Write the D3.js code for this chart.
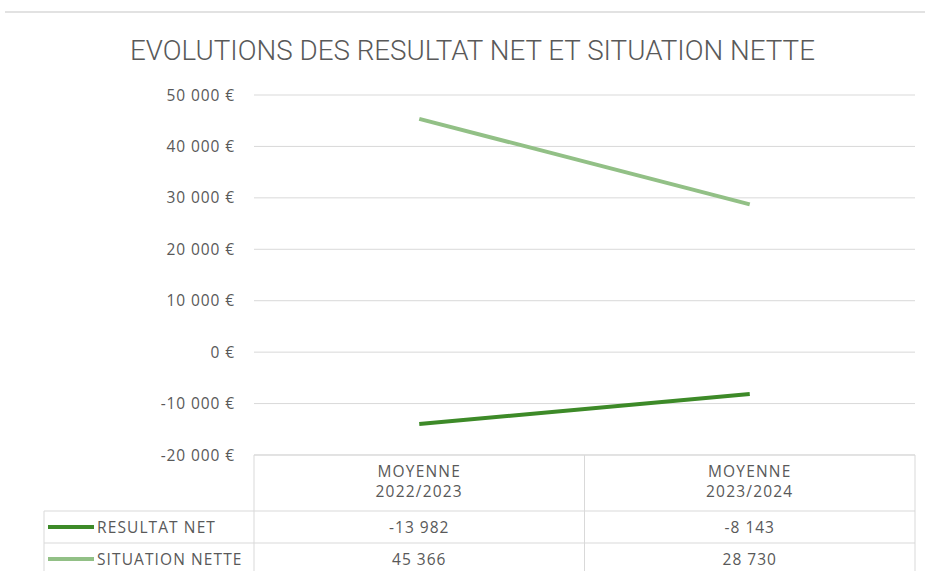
<!doctype html>
<html>
<head>
<meta charset="utf-8"/>
<title>Evolutions des resultat net et situation nette</title>
<script src="https://d3js.org/d3.v7.min.js"></script>
<style>
  body { margin: 0; background: #fff; }
  text { font-family: "Open Sans", sans-serif; fill: #595959; }
</style>
</head>
<body>
<script>
// donnees
var categories = ["MOYENNE\n2022/2023", "MOYENNE\n2023/2024"];
var resultatNet = [-13982, -8143];
var situationNette = [45366, 28730];
var seriesNames = ["RESULTAT NET", "SITUATION NETTE"];
var seriesColors = ["#3d8a28", "#92c086"];
var yTicks = [-20000, -10000, 0, 10000, 20000, 30000, 40000, 50000];

var W = 925, H = 571;
var svg = d3.select("body").append("svg")
  .attr("width", W).attr("height", H);

// trait gris du haut
svg.append("line")
  .attr("x1", 5).attr("x2", W).attr("y1", 12).attr("y2", 12)
  .attr("stroke", "#d9d9d9").attr("stroke-width", 1.5);

svg.append("text")
  .attr("x", 130).attr("y", 60)
  .attr("textLength", 685)
  .attr("lengthAdjust", "spacingAndGlyphs")
  .style("font-size", "28px")
  .style("font-family", "Roboto, sans-serif")
  .style("font-weight", "300")
  .text("EVOLUTIONS DES RESULTAT NET ET SITUATION NETTE");

var x0 = 254, x1 = 915;
var x = d3.scaleBand().domain(categories).range([x0, x1]);
var y = d3.scaleLinear().domain([-20000, 50000]).range([455, 95]);

var fmt = function(v) {
  return d3.format(",")(v).replace(/,/g, " ").replace("\u2212", "-");
};

// grille
svg.append("g").selectAll("line").data(yTicks).join("line")
  .attr("x1", x0).attr("x2", x1)
  .attr("y1", function(d) { return y(d); })
  .attr("y2", function(d) { return y(d); })
  .attr("stroke", "#d9d9d9").attr("stroke-width", 1);

svg.append("g").selectAll("text").data(yTicks).join("text")
  .attr("x", 235)
  .attr("y", function(d) { return y(d) + 5.5; })
  .attr("text-anchor", "end")
  .style("font-size", "15.5px")
  .style("letter-spacing", "0.9px")
  .text(function(d) { return fmt(d) + " €"; });

// lignes
var series = [resultatNet, situationNette];
var line = d3.line()
  .x(function(d, i) { return x(categories[i]) + x.bandwidth() / 2; })
  .y(function(d) { return y(d); });

series.forEach(function(s, k) {
  svg.append("path")
    .datum(s)
    .attr("d", line)
    .attr("fill", "none")
    .attr("stroke", seriesColors[k])
    .attr("stroke-width", 4)
    .attr("stroke-linecap", "butt");
});

// tableau de donnees
var rowY = [455, 511, 543, 575];
var tbl = svg.append("g");
var gridColor = "#d9d9d9";
tbl.append("line").attr("x1", x0).attr("x2", x1).attr("y1", rowY[0]).attr("y2", rowY[0])
  .attr("stroke", gridColor);
[rowY[1], rowY[2]].forEach(function(yy) {
  tbl.append("line").attr("x1", 44).attr("x2", x1).attr("y1", yy).attr("y2", yy)
    .attr("stroke", gridColor);
});
[x0, x0 + x.bandwidth(), x1].forEach(function(xx) {
  tbl.append("line").attr("x1", xx).attr("x2", xx).attr("y1", rowY[0]).attr("y2", H)
    .attr("stroke", gridColor);
});
tbl.append("line").attr("x1", 44).attr("x2", 44).attr("y1", rowY[1]).attr("y2", H)
  .attr("stroke", gridColor);

categories.forEach(function(c) {
  var cx = x(c) + x.bandwidth() / 2;
  c.split("\n").forEach(function(part, j) {
    tbl.append("text")
      .attr("x", cx).attr("y", 477 + j * 20)
      .attr("text-anchor", "middle")
      .style("font-size", "15.5px")
      .style("letter-spacing", "1.2px")
      .text(part);
  });
});

series.forEach(function(s, k) {
  var yy = (rowY[k + 1] + rowY[k + 2]) / 2;
  if (k == 1) yy = 559;
  tbl.append("line")
    .attr("x1", 48).attr("x2", 94).attr("y1", yy).attr("y2", yy)
    .attr("stroke", seriesColors[k]).attr("stroke-width", 4);
  tbl.append("text")
    .attr("x", 97).attr("y", yy + 6)
    .style("font-size", "15.5px")
    .style("letter-spacing", "1.1px")
    .text(seriesNames[k]);
  s.forEach(function(v, i) {
    tbl.append("text")
      .attr("x", x(categories[i]) + x.bandwidth() / 2)
      .attr("y", yy + 6)
      .attr("text-anchor", "middle")
      .style("font-size", "15.5px")
      .style("letter-spacing", "1px")
      .text(fmt(v));
  });
});
</script>
</body>
</html>
